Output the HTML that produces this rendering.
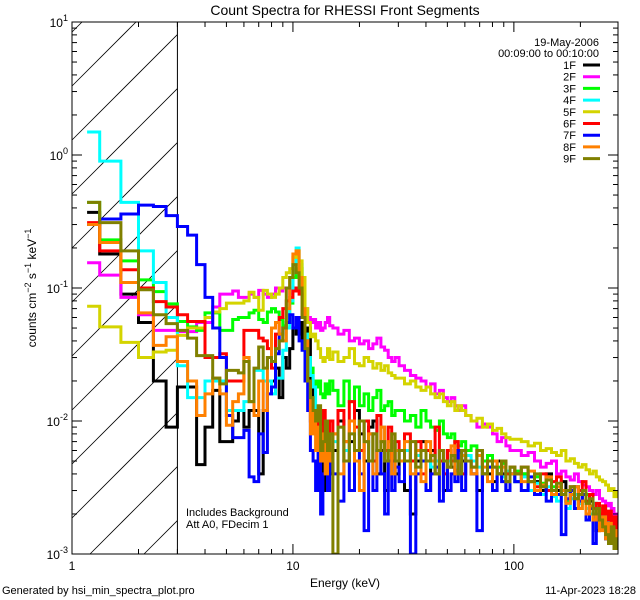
<!DOCTYPE html>
<html><head><meta charset="utf-8"><title>Count Spectra</title>
<style>
html,body{margin:0;padding:0;background:#fff;width:640px;height:600px;overflow:hidden;}
svg{display:block;font-family:"Liberation Sans",sans-serif;vertical-align:top;}
</style></head>
<body>
<svg id="chart" width="640" height="600" viewBox="0 0 640 600">
  <defs><clipPath id="plotclip"><rect x="72" y="22" width="546" height="532"/></clipPath></defs>
  <text x="345" y="15" font-size="14" text-anchor="middle">Count Spectra for RHESSI Front Segments</text>
  <g id="hatch"></g>
  <g id="series" clip-path="url(#plotclip)"></g>
  <g id="axes"></g>
  <text transform="translate(36,288) rotate(-90)" font-size="12" text-anchor="middle">counts cm<tspan dy="-5" font-size="9">−2</tspan><tspan dy="5"> s</tspan><tspan dy="-5" font-size="9">−1</tspan><tspan dy="5"> keV</tspan><tspan dy="-5" font-size="9">−1</tspan></text>
  <text x="345" y="587" font-size="12" text-anchor="middle">Energy (keV)</text>
  <text x="2" y="594" font-size="11">Generated by hsi_min_spectra_plot.pro</text>
  <text x="636" y="594" font-size="11" text-anchor="end">11-Apr-2023 18:28</text>
  <text x="186" y="516" font-size="11">Includes Background</text>
  <text x="186" y="528" font-size="11">Att A0, FDecim 1</text>
  <text x="599" y="46" font-size="11" text-anchor="end">19-May-2006</text>
  <text x="599" y="57" font-size="11" text-anchor="end">00:09:00 to 00:10:00</text>
  <g id="legend"></g>
</svg>
<script>
const energy = [1.17,1.5,1.83,2.17,2.5,2.83,3.17,3.5,3.83,4.17,4.5,4.83,5.17,5.5,5.83,6.17,6.5,6.83,7.17,7.5,7.83,8.17,8.5,8.83,9.17,9.5,9.83,10.17,10.5,10.83,11.17,11.5,11.83,12.17,12.5,12.83,13.17,13.5,13.83,14.17,14.5,14.83,
15.5,16.5,17.5,18.5,19.5,20.5,21.5,22.5,23.5,24.5,25.5,26.5,27.5,28.5,29.5,
31,33,35,37,39,41,43,45,47,49,51,53,55,57,59,
62,66,70,74,78,82,86,90,94,98,
104,112,120,128,136,144,152,160,168,176,184,192,200,208,216,224,232,240,248,256,264,272,280,288,296];
const seriesNames = ["1F","2F","3F","4F","5F","6F","7F","8F","9F"];
const seriesColors = ["#000000","#ff00ff","#00ff00","#00ffff","#d4d400","#ff0000","#0000ff","#ff8000","#808000"];
const s1F = [0.37,0.18,0.09,0.055,0.02,0.009,0.018,0.018,0.0047,0.009,0.017,0.007,0.007,0.01,0.012,0.009,0.012,0.012,0.004,0.012,0.02,0.02,0.025,0.015,0.03,0.025,0.035,0.05,0.045,0.055,0.04,0.03,0.05,0.02,0.012,0.008,0.01,0.005,0.003,0.006,0.008,0.004,
0.006,0.01,0.005,0.007,0.012,0.008,0.005,0.009,0.01,0.004,0.006,0.003,0.005,0.007,0.004,
0.006,0.003,0.002,0.005,0.007,0.003,0.006,0.004,0.005,0.003,0.006,0.0045,0.004,0.006,0.005,
0.005,0.004,0.003,0.005,0.004,0.0035,0.005,0.004,0.003,0.004,
0.0035,0.004,0.003,0.0035,0.003,0.004,0.0028,0.003,0.0035,0.0025,0.003,0.0032,0.0024,0.0028,0.002,0.0025,0.0022,0.0015,0.002,0.0018,0.0013,0.0016,0.0012,0.0015,0.0013];
const s2F = [0.155,0.125,0.085,0.063,0.048,0.048,0.047,0.047,0.055,0.055,0.072,0.09,0.09,0.095,0.085,0.085,0.09,0.085,0.096,0.09,0.085,0.09,0.1,0.095,0.1,0.1,0.09,0.1,0.1,0.095,0.077,0.07,0.06,0.055,0.058,0.05,0.055,0.048,0.05,0.055,0.06,0.052,
0.05,0.045,0.048,0.04,0.042,0.038,0.04,0.035,0.038,0.042,0.036,0.034,0.03,0.028,0.03,
0.026,0.024,0.022,0.021,0.02,0.018,0.019,0.016,0.017,0.015,0.014,0.015,0.013,0.012,0.013,
0.011,0.01,0.009,0.0095,0.009,0.008,0.007,0.0075,0.0065,0.006,
0.006,0.0055,0.0058,0.005,0.0045,0.0048,0.005,0.004,0.0042,0.0038,0.0036,0.004,0.0035,0.0033,0.0032,0.003,0.0028,0.003,0.0026,0.0025,0.0023,0.0024,0.0022,0.002,0.0018];
const s3F = [0.44,0.23,0.16,0.115,0.094,0.076,0.056,0.051,0.048,0.065,0.065,0.048,0.048,0.058,0.06,0.06,0.065,0.068,0.058,0.055,0.066,0.07,0.066,0.058,0.052,0.055,0.077,0.12,0.137,0.14,0.06,0.045,0.03,0.025,0.02,0.018,0.02,0.016,0.015,0.019,0.016,0.02,
0.017,0.013,0.02,0.014,0.018,0.013,0.016,0.012,0.015,0.017,0.012,0.013,0.014,0.011,0.012,
0.012,0.01,0.011,0.009,0.012,0.01,0.009,0.0085,0.01,0.008,0.0075,0.008,0.007,0.0065,0.007,
0.006,0.0065,0.0055,0.005,0.0055,0.005,0.0045,0.0048,0.004,0.0045,
0.0042,0.004,0.0035,0.0038,0.0034,0.003,0.0032,0.0028,0.003,0.0025,0.0028,0.0026,0.0022,0.0025,0.0028,0.002,0.0024,0.002,0.0018,0.0022,0.0016,0.0018,0.0015,0.0016,0.0014];
const s4F = [1.49,0.9,0.44,0.19,0.11,0.06,0.026,0.015,0.015,0.02,0.02,0.02,0.012,0.012,0.012,0.014,0.014,0.024,0.024,0.02,0.02,0.016,0.021,0.021,0.034,0.05,0.08,0.13,0.2,0.15,0.08,0.045,0.03,0.022,0.018,0.012,0.008,0.01,0.006,0.009,0.007,0.008,
0.007,0.009,0.006,0.008,0.006,0.01,0.007,0.005,0.008,0.006,0.009,0.005,0.006,0.007,0.006,
0.005,0.006,0.004,0.0055,0.006,0.005,0.0045,0.005,0.006,0.004,0.005,0.0055,0.0045,0.005,0.004,
0.0055,0.005,0.0045,0.004,0.0045,0.005,0.004,0.0038,0.0042,0.004,
0.0035,0.0038,0.003,0.0034,0.0028,0.0032,0.0027,0.0025,0.003,0.0022,0.0026,0.0028,0.0024,0.0025,0.0022,0.002,0.0024,0.002,0.0017,0.002,0.0016,0.0018,0.0015,0.0016,0.0014];
const s5F = [0.073,0.051,0.039,0.03,0.033,0.034,0.044,0.05,0.05,0.06,0.066,0.07,0.077,0.077,0.077,0.08,0.093,0.085,0.068,0.096,0.09,0.085,0.09,0.1,0.12,0.13,0.14,0.17,0.19,0.16,0.12,0.07,0.055,0.043,0.045,0.04,0.035,0.03,0.028,0.03,0.035,0.029,
0.033,0.028,0.03,0.035,0.027,0.026,0.03,0.028,0.025,0.027,0.024,0.026,0.023,0.022,0.021,
0.021,0.019,0.02,0.018,0.017,0.018,0.016,0.015,0.016,0.014,0.013,0.014,0.012,0.013,0.012,
0.011,0.01,0.0105,0.009,0.0095,0.0085,0.0088,0.008,0.0075,0.0073,
0.0073,0.007,0.0065,0.0068,0.006,0.0062,0.0058,0.0055,0.006,0.005,0.0052,0.0048,0.0045,0.0047,0.0043,0.004,0.0042,0.0038,0.0036,0.0035,0.0033,0.003,0.0031,0.0027,0.0029];
const s6F = [0.31,0.19,0.137,0.1,0.079,0.072,0.063,0.056,0.056,0.03,0.03,0.032,0.02,0.02,0.02,0.048,0.048,0.048,0.042,0.04,0.035,0.025,0.045,0.06,0.07,0.08,0.085,0.095,0.1,0.09,0.06,0.04,0.02,0.01,0.012,0.008,0.01,0.007,0.012,0.009,0.006,0.01,
0.008,0.012,0.007,0.014,0.009,0.006,0.01,0.008,0.005,0.011,0.007,0.006,0.009,0.005,0.007,
0.006,0.008,0.005,0.007,0.004,0.006,0.005,0.009,0.005,0.004,0.006,0.005,0.007,0.005,0.004,
0.005,0.0045,0.006,0.004,0.005,0.0045,0.004,0.005,0.004,0.0045,
0.004,0.0045,0.0035,0.0032,0.004,0.003,0.0035,0.0038,0.0028,0.003,0.0032,0.0026,0.003,0.0035,0.0025,0.0028,0.0022,0.0024,0.002,0.0023,0.0018,0.0021,0.0016,0.0019,0.0015];
const s7F = [0.30,0.33,0.36,0.42,0.41,0.35,0.29,0.25,0.15,0.085,0.05,0.03,0.011,0.0075,0.0075,0.0085,0.0038,0.0035,0.008,0.0058,0.016,0.018,0.032,0.045,0.05,0.055,0.063,0.05,0.06,0.04,0.034,0.02,0.012,0.006,0.005,0.003,0.007,0.002,0.004,0.006,0.003,0.005,
0.004,0.0025,0.005,0.003,0.006,0.004,0.0015,0.005,0.003,0.006,0.004,0.002,0.005,0.003,0.0045,
0.0035,0.005,0.001,0.004,0.005,0.003,0.004,0.0045,0.0025,0.005,0.003,0.004,0.0035,0.006,0.003,
0.005,0.004,0.0015,0.004,0.0045,0.003,0.004,0.0035,0.003,0.004,
0.0035,0.003,0.0038,0.0028,0.0032,0.0025,0.003,0.0028,0.0014,0.0026,0.003,0.0022,0.0025,0.0028,0.0018,0.0022,0.0012,0.002,0.0017,0.0019,0.0013,0.0016,0.0012,0.0015,0.0011];
const s8F = [0.3,0.22,0.11,0.065,0.037,0.043,0.028,0.02,0.011,0.016,0.021,0.016,0.0093,0.014,0.016,0.03,0.014,0.011,0.02,0.012,0.03,0.05,0.055,0.045,0.04,0.07,0.12,0.18,0.19,0.12,0.07,0.04,0.02,0.008,0.012,0.006,0.009,0.005,0.008,0.004,0.007,0.005,
0.008,0.004,0.007,0.01,0.005,0.003,0.007,0.008,0.004,0.006,0.009,0.005,0.007,0.004,0.006,
0.005,0.007,0.004,0.006,0.0035,0.007,0.005,0.004,0.006,0.005,0.0045,0.0065,0.004,0.005,0.0055,
0.005,0.004,0.0055,0.0045,0.0035,0.005,0.004,0.0045,0.0035,0.004,
0.004,0.0035,0.0042,0.003,0.0033,0.0038,0.0028,0.0032,0.003,0.0024,0.0028,0.0032,0.0022,0.0025,0.002,0.0023,0.0018,0.0021,0.0015,0.0019,0.0013,0.0017,0.0012,0.0015,0.0012];
const s9F = [0.44,0.31,0.19,0.097,0.063,0.054,0.048,0.042,0.031,0.031,0.021,0.019,0.024,0.024,0.023,0.028,0.014,0.025,0.036,0.025,0.03,0.028,0.035,0.04,0.05,0.1,0.12,0.15,0.13,0.1,0.06,0.035,0.02,0.015,0.012,0.01,0.013,0.006,0.007,0.01,0.006,0.008,
0.001,0.009,0.005,0.008,0.006,0.01,0.007,0.005,0.008,0.006,0.007,0.005,0.006,0.008,0.005,
0.006,0.005,0.007,0.0045,0.006,0.005,0.0055,0.004,0.006,0.005,0.0045,0.0055,0.005,0.004,0.006,
0.005,0.0045,0.006,0.004,0.005,0.0045,0.004,0.005,0.0035,0.0045,
0.004,0.0045,0.0035,0.004,0.0032,0.0036,0.003,0.0034,0.0028,0.003,0.0032,0.0026,0.0028,0.003,0.0024,0.0026,0.002,0.0022,0.0018,0.0016,0.0014,0.0012,0.0016,0.0011,0.0013];
const seriesValues = [s1F,s2F,s3F,s4F,s5F,s6F,s7F,s8F,s9F];
const xTickValues = [1,10,100];
const xTickLabels = ["1","10","100"];
const yTickExponents = [-3,-2,-1,0,1];
const thresholdEnergy = 3.0;

const NS = "http://www.w3.org/2000/svg";
const L = 72, R = 618, T = 22, B = 554;
const xMin = 1, xMax = 296, yMin = 1e-3, yMax = 10;
function xs(e){ return L + (Math.log10(e)-Math.log10(xMin))/(Math.log10(xMax)-Math.log10(xMin))*(R-L); }
function ys(v){ v = Math.max(v, yMin); return T + (Math.log10(yMax)-Math.log10(v))/(Math.log10(yMax)-Math.log10(yMin))*(B-T); }
function mk(tag, attrs, parent){ const el=document.createElementNS(NS,tag); for(const k in attrs) el.setAttribute(k,attrs[k]); parent.appendChild(el); return el; }

const hatch = document.getElementById('hatch');
const xt = xs(thresholdEnergy);
for (let c = 86 - 54*2; c < B + (xt-L) + 60; c += 54) {
  const xa = Math.max(L, L + c - B), xb = Math.min(xt, L + c - T);
  if (xb <= xa) continue;
  const ln = mk('line',{x1:xa,y1:c-(xa-L),x2:xb,y2:c-(xb-L),stroke:'#000','stroke-width':0.8},hatch);
  
  
}
const thr = mk('line',{x1:xt,y1:T,x2:xt,y2:B,stroke:'#000','stroke-width':1},hatch);



const sg = document.getElementById('series');
seriesValues.forEach((vals, si) => {
  let d = '';
  for (let i = 0; i < energy.length; i++) {
    const e0 = i === 0 ? energy[0] : (energy[i-1]+energy[i])/2;
    const e1 = i === energy.length-1 ? energy[i] : (energy[i]+energy[i+1])/2;
    const y = ys(vals[i]).toFixed(1);
    d += (i===0 ? 'M' : 'L') + xs(e0).toFixed(1) + ',' + y + 'L' + xs(e1).toFixed(1) + ',' + y;
  }
  const p = mk('path',{d:d,fill:'none',stroke:seriesColors[si],'stroke-width':3,'stroke-linejoin':'miter'},sg);
  
  
});

const ax = document.getElementById('axes');
const box = mk('rect',{x:L,y:T,width:R-L,height:B-T,fill:'none',stroke:'#000','stroke-width':1},ax);


for (let dec = 1; dec <= 100; dec *= 10) {
  for (let m = 1; m <= 9; m++) {
    const e = dec*m; if (e > xMax) break;
    const x = xs(e); const len = m===1 ? 10 : 5;
    const t1 = mk('line',{x1:x,y1:B,x2:x,y2:B-len,stroke:'#000'},ax);
    
    
    const t2 = mk('line',{x1:x,y1:T,x2:x,y2:T+len,stroke:'#000'},ax);
    
    
  }
}
xTickValues.forEach((v,i) => {
  const t = mk('text',{x:xs(v),y:B+16,'font-size':12,'text-anchor':'middle'},ax);
  t.textContent = xTickLabels[i];
  
  
});
yTickExponents.forEach(ex => {
  for (let m = 1; m <= 9; m++) {
    const v = m*Math.pow(10,ex); if (v > yMax*1.0001) break;
    const y = ys(v); const len = m===1 ? 10 : 5;
    const t1 = mk('line',{x1:L,y1:y,x2:L+len,y2:y,stroke:'#000'},ax);
    
    
    const t2 = mk('line',{x1:R,y1:y,x2:R-len,y2:y,stroke:'#000'},ax);
    
    
  }
  const y = ys(Math.pow(10,ex));
  const t = mk('text',{x:L-4,y:y+5,'font-size':12,'text-anchor':'end'},ax);
  t.innerHTML = '10<tspan dy="-6" font-size="9">' + ex + '</tspan>';
  
  
});

const lg = document.getElementById('legend');
seriesNames.forEach((n,i) => {
  const y = 65 + i*11.7;
  const g = mk('g',{},lg);
  
  
  const t = mk('text',{x:576,y:y+4,'font-size':11,'text-anchor':'end'},g);
  t.textContent = n;
  mk('line',{x1:583,y1:y,x2:600,y2:y,stroke:seriesColors[i],'stroke-width':3},g);
});
</script>
</body></html>
